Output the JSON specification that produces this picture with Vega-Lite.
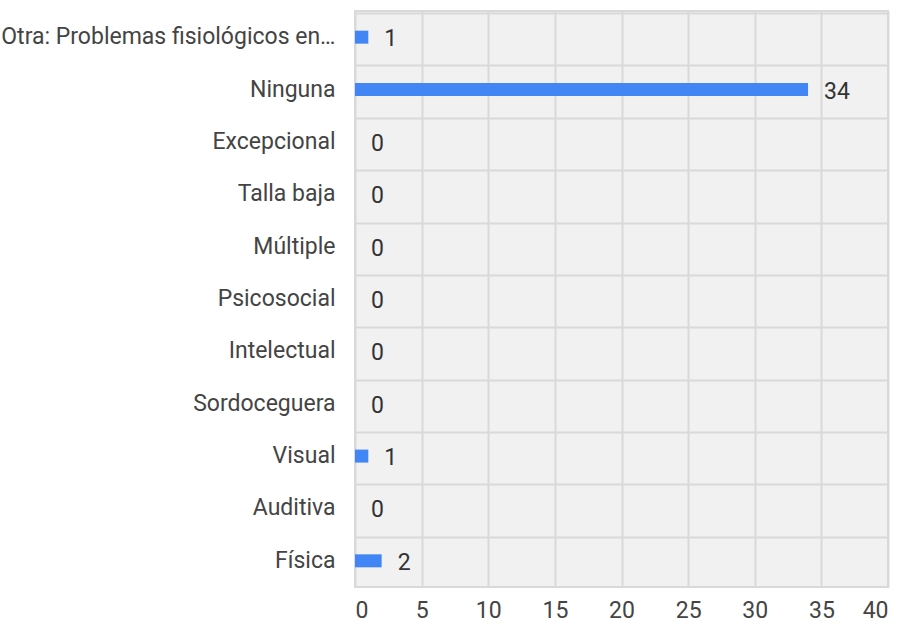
{
  "$schema": "https://vega.github.io/schema/vega-lite/v6.json",
  "autosize": "none",
  "width": 533,
  "height": 576,
  "padding": {"left": 355, "top": 11, "right": 19, "bottom": 43},
  "background": "white",
  "config": {
    "font": "Roboto",
    "view": {"fill": "#f1f1f1", "stroke": "#d9d9d9", "strokeWidth": 2}
  },
  "data": {
    "values": [
      {"categoria": "Otra: Problemas fisiológicos en…", "cantidad": 1},
      {"categoria": "Ninguna", "cantidad": 34},
      {"categoria": "Excepcional", "cantidad": 0},
      {"categoria": "Talla baja", "cantidad": 0},
      {"categoria": "Múltiple", "cantidad": 0},
      {"categoria": "Psicosocial", "cantidad": 0},
      {"categoria": "Intelectual", "cantidad": 0},
      {"categoria": "Sordoceguera", "cantidad": 0},
      {"categoria": "Visual", "cantidad": 1},
      {"categoria": "Auditiva", "cantidad": 0},
      {"categoria": "Física", "cantidad": 2}
    ]
  },
  "encoding": {
    "y": {
      "field": "categoria",
      "type": "nominal",
      "sort": null,
      "title": null,
      "axis": {
        "bandPosition": 0,
        "grid": true,
        "gridColor": "#d9d9d9",
        "gridWidth": 2,
        "ticks": false,
        "domain": false,
        "labelFontSize": 23,
        "labelColor": "#444444",
        "labelPadding": 20,
        "labelLimit": 400
      }
    }
  },
  "layer": [
    {
      "mark": {"type": "bar", "color": "#4285F4", "size": 13},
      "encoding": {
        "x": {
          "field": "cantidad",
          "type": "quantitative",
          "scale": {"domain": [0, 40]},
          "title": null,
          "axis": {
            "values": [0, 5, 10, 15, 20, 25, 30, 35, 40],
            "grid": true,
            "gridColor": "#d9d9d9",
            "gridWidth": 2,
            "ticks": false,
            "domain": false,
            "labelFontSize": 23,
            "labelColor": "#444444",
            "labelPadding": 12
          }
        }
      }
    },
    {
      "mark": {"type": "text", "align": "left", "baseline": "middle", "dx": 16, "dy": 2, "fontSize": 23, "color": "#333333"},
      "encoding": {
        "x": {"field": "cantidad", "type": "quantitative"},
        "text": {"field": "cantidad", "type": "quantitative"}
      }
    }
  ]
}
